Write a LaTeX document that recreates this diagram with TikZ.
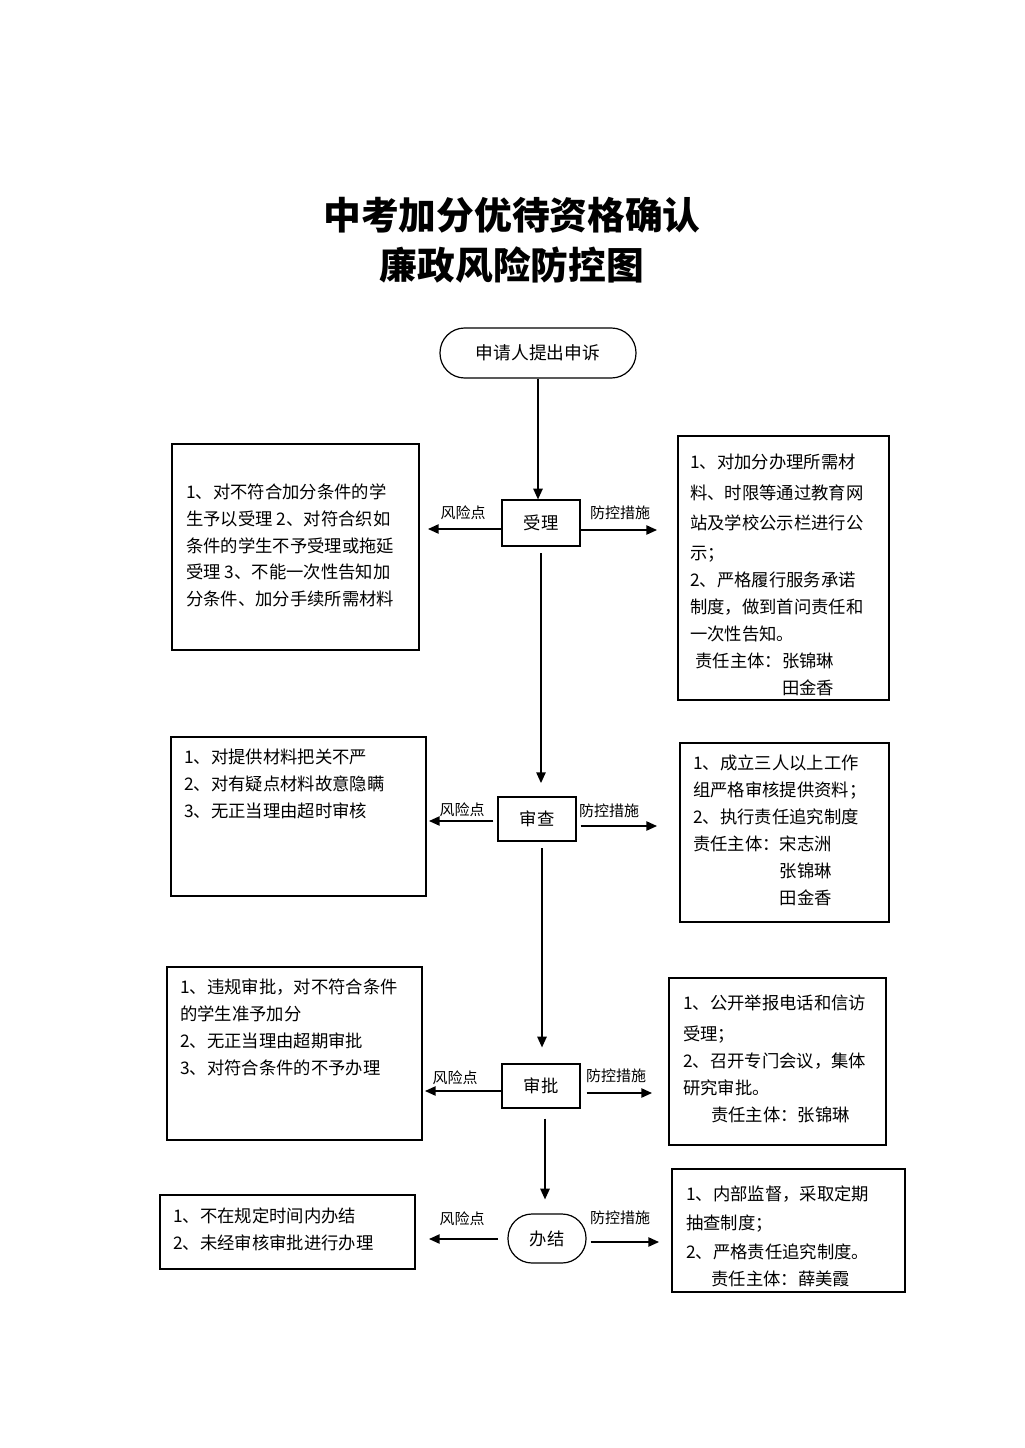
\documentclass[tikz,border=0pt]{standalone}
\usepackage{fontspec}
\newfontfamily\cjk{Noto Sans CJK SC}
\usetikzlibrary{arrows.meta,fit}
\begin{document}
\begin{tikzpicture}[x=0.75pt,y=-0.75pt,
  box/.style={draw, line width=0.9pt, inner sep=0pt},
  proc/.style={box},
  term/.style={box, rounded corners=18.5pt},
  ctext/.style={label={[font=\cjk\fontsize{13}{15}\selectfont, inner sep=0pt]center:#1}},
  conn/.style={line width=1.1pt, -{Triangle[width=7pt,length=8pt]}},
  lbl/.style={font=\cjk\fontsize{11.25}{13}\selectfont, inner sep=0pt},
  txt/.style={font=\cjk\fontsize{13}{20.25}\selectfont, align=left, anchor=north west, inner sep=0pt},
  ]
\useasboundingbox (0,0) rectangle (1024,1448);

% title
\node[font=\cjk\bfseries\fontsize{28.3}{37.5}\selectfont, align=center, inner sep=0pt] (title) at (512,240) {中考加分优待资格确认\\廉政风险防控图};

% main flow nodes
\node[term, fit={(440,328) (636,378)}, label={[font=\cjk\fontsize{13.3}{15}\selectfont, inner sep=0pt]center:申请人提出申诉}] (start) {};
\node[proc, fit={(502,500) (580,546)}, ctext=受理] (shouli) {};
\node[proc, fit={(498,797) (576,841)}, ctext=审查] (shencha) {};
\node[proc, fit={(502,1064) (580,1108)}, ctext=审批] (shenpi) {};
\node[term, rounded corners=18pt, fit={(508,1214) (586,1263)}, ctext=办结] (banjie) {};

% side boxes
\node[box, fit={(172,444) (419,650)}] (L1) {};
\node[box, fit={(678,436) (889,700)}] (R1) {};
\node[box, fit={(171,737) (426,896)}] (L2) {};
\node[box, fit={(680,743) (889,922)}] (R2) {};
\node[box, fit={(167,967) (422,1140)}] (L3) {};
\node[box, fit={(669,978) (886,1145)}] (R3) {};
\node[box, fit={(160,1195) (415,1269)}] (L4) {};
\node[box, fit={(672,1169) (905,1292)}] (R4) {};

% box texts
\node[txt, font=\cjk\fontsize{13}{19.9}\selectfont] (L1t) at (186,484) {1、对不符合加分条件的学\\生予以受理 2、对符合织如\\条件的学生不予受理或拖延\\受理 3、不能一次性告知加\\分条件、加分手续所需材料};
\node[txt] (R1t) at (690,454) {1、对加分办理所需材\\[2.4pt]料、时限等通过教育网\\[2.4pt]站及学校公示栏进行公\\[2.4pt]示；\\2、严格履行服务承诺\\制度，做到首问责任和\\一次性告知。\\\hspace{4pt}责任主体：张锦琳\\\hspace{4pt}\phantom{责任主体：}田金香};
\node[txt] (L2t) at (184,749) {1、对提供材料把关不严\\2、对有疑点材料故意隐瞒\\3、无正当理由超时审核};
\node[txt] (R2t) at (693,755) {1、成立三人以上工作\\组严格审核提供资料；\\2、执行责任追究制度\\责任主体：宋志洲\\\phantom{责任主体：}张锦琳\\\phantom{责任主体：}田金香};
\node[txt] (L3t) at (180,979) {1、违规审批，对不符合条件\\的学生准予加分\\2、无正当理由超期审批\\3、对符合条件的不予办理};
\node[txt] (R3t) at (683,995) {1、公开举报电话和信访\\[2.4pt]受理；\\2、召开专门会议，集体\\研究审批。\\\hspace{21pt}责任主体：张锦琳};
\node[txt] (L4t) at (173,1208) {1、不在规定时间内办结\\2、未经审核审批进行办理};
\node[txt] (R4t) at (686,1186) {1、内部监督，采取定期\\[1.2pt]抽查制度；\\[1.2pt]2、严格责任追究制度。\\\hspace{19pt}责任主体：薛美霞};

% free ends of side arrows
\coordinate (a1l) at (428,529);
\coordinate (a1r) at (657,530);
\coordinate (a2l) at (429,821);
\coordinate (a2r) at (657,826);
\coordinate (a3l) at (425,1091);
\coordinate (a3r) at (652,1093);
\coordinate (a4l) at (429,1239);
\coordinate (a4r) at (659,1242);

% vertical connectors
\draw[conn] (start.south) -- (start.south |- shouli.north);
\draw[conn, shorten <=5pt, shorten >=10pt] (shouli.south) -- (shouli.south |- shencha.north);
\draw[conn, shorten <=5pt, shorten >=12pt] ([xshift=0.75pt]shouli.south |- shencha.south) -- ([xshift=0.75pt]shouli.south |- shenpi.north);
\draw[conn, shorten <=7.5pt, shorten >=10.5pt] ([xshift=3pt]shenpi.south) -- ([xshift=3pt]shenpi.south |- banjie.north);

% side connectors
\draw[conn] (shouli.west |- a1l) -- (a1l);
\draw[conn] (shouli.east |- a1r) -- (a1r);
\draw[conn, shorten <=3pt] (shencha.west |- a2l) -- (a2l);
\draw[conn, shorten <=3pt] (shencha.east |- a2r) -- (a2r);
\draw[conn] (shenpi.west |- a3l) -- (a3l);
\draw[conn, shorten <=4.5pt] (shenpi.east |- a3r) -- (a3r);
\draw[conn, shorten <=7pt] (banjie.west |- a4l) -- (a4l);
\draw[conn, shorten <=3pt] (banjie.east |- a4r) -- (a4r);

% arrow labels
\node[lbl] (k1l) at (463,513) {风险点};
\node[lbl] (k1r) at (620,513) {防控措施};
\node[lbl] (k2l) at (462,810) {风险点};
\node[lbl] (k2r) at (609,811) {防控措施};
\node[lbl] (k3l) at (455,1078) {风险点};
\node[lbl] (k3r) at (616,1076) {防控措施};
\node[lbl] (k4l) at (462,1219) {风险点};
\node[lbl] (k4r) at (620,1218) {防控措施};
\end{tikzpicture}
\end{document}
